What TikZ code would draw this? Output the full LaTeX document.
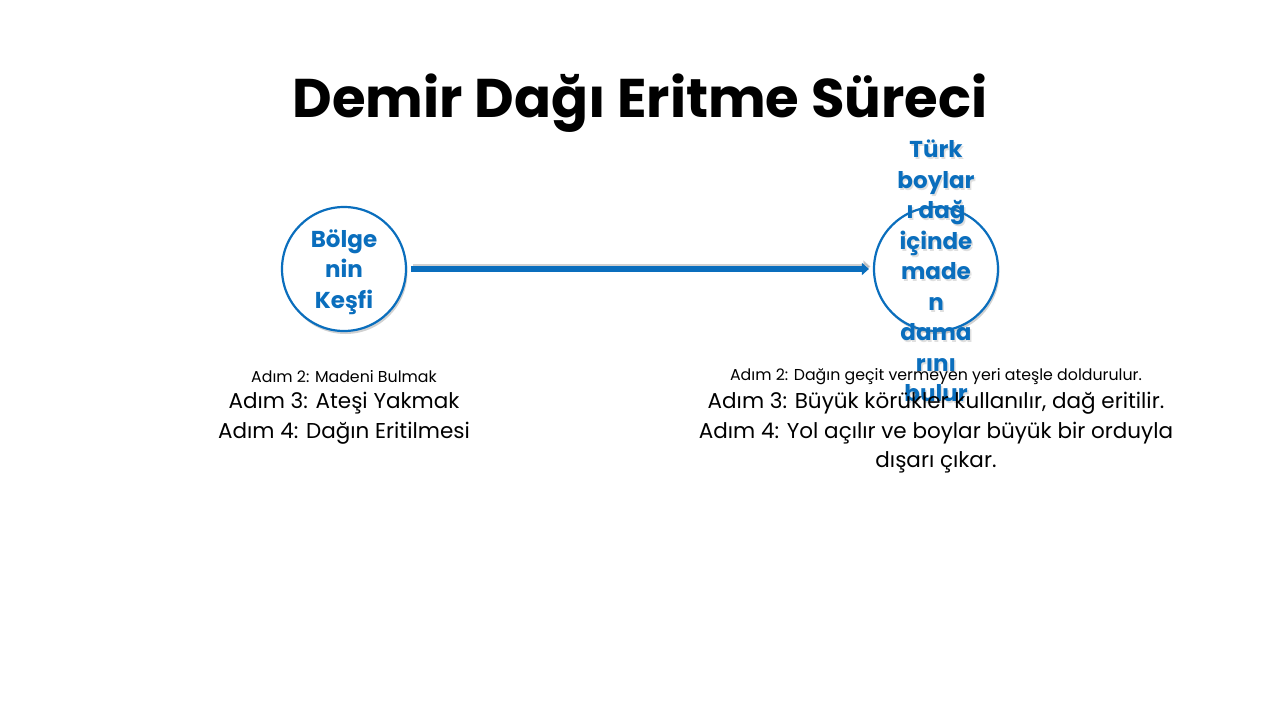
\documentclass[tikz,border=0pt]{standalone}
\usepackage{fontspec}
\setmainfont{Poppins}
\usetikzlibrary{shadows,arrows.meta}
\definecolor{cblue}{HTML}{0A6EBD}
\tikzset{
  x=1pt,y=-1pt,
  circ/.style={circle,draw=cblue,line width=2.2pt,fill=white,minimum size=124pt,inner sep=0pt,
    drop shadow={shadow xshift=1.5pt,shadow yshift=-3pt,opacity=0.3,fill=black!60}},
  ctext/.style={text=cblue,font=\fontsize{23}{30.5}\selectfont\bfseries,align=center,inner sep=0pt},
  ctshadow/.style={text=black!50,opacity=0.25,font=\fontsize{23}{30.5}\selectfont\bfseries,align=center,inner sep=0pt},
  small/.style={font=\fontsize{15.8}{18}\selectfont,inner sep=0pt,align=center},
  big/.style={font=\fontsize{21.5}{29.5}\selectfont,inner sep=0pt,align=center},
}
\begin{document}
\begin{tikzpicture}
\useasboundingbox (0,0) rectangle (1280,720);
\node[font=\fontsize{54.5}{60}\selectfont\bfseries] (title) at (640,103) {Demir Dağı Eritme Süreci};
\node[circ] (c1) at (344,269) {};
\node[circ] (c2) at (936,269) {};
\node[ctext] (t1) at (344,272) {Bölge\\nin\\Keşfi};
\coordinate (a1) at ([xshift=4pt]c1.east);
\coordinate (a2) at ([xshift=-4pt]c2.west);
\draw[line width=6pt,black!40,opacity=0.45,-{Triangle[length=7pt,width=12pt]}] ([xshift=1.5pt,yshift=2.5pt]a1) -- ([xshift=1.5pt,yshift=2.5pt]a2);
\draw[line width=6pt,cblue,-{Triangle[length=7pt,width=12pt]}] (a1) -- (a2);
\node[ctshadow] (t2s) at (937.5,273) {Türk\\boylar\\ı dağ\\içinde\\made\\n\\dama\\rını\\bulur};
\node[ctext] (t2) at (936,271) {Türk\\boylar\\ı dağ\\içinde\\made\\n\\dama\\rını\\bulur};
\node[small] (l1) at (344,377) {Adım 2: Madeni Bulmak};
\node[big,anchor=north] (l2) at (344,392) {Adım 3: Ateşi Yakmak\\Adım 4: Dağın Eritilmesi};
\node[small] (r1) at (936,377) {Adım 2: Dağın geçit vermeyen yeri ateşle doldurulur.};
\node[big,anchor=north] (r2) at (936,392) {Adım 3: Büyük körükler kullanılır, dağ eritilir.\\Adım 4: Yol açılır ve boylar büyük bir orduyla\\dışarı çıkar.};
\end{tikzpicture}
\end{document}
